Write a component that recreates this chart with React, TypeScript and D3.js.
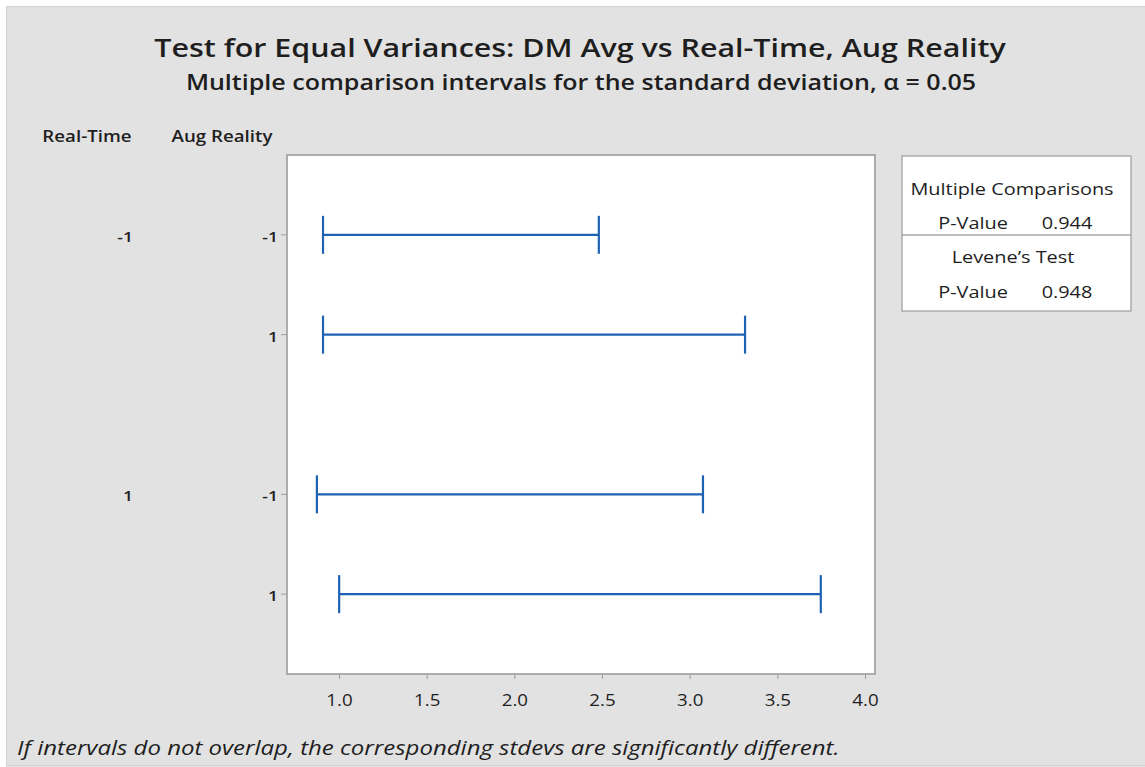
import React from "react";
import * as d3 from "d3";

const groupsRealTime = ["-1", "-1", "1", "1"];
const groupsAug = ["-1", "1", "-1", "1"];
const rowPositions = [0, 1, 2.6, 3.6];
const lowerCI = [0.906, 0.906, 0.871, 0.998];
const upperCI = [2.479, 3.313, 3.073, 3.745];
const xTicks = [1.0, 1.5, 2.0, 2.5, 3.0, 3.5, 4.0];
const multCompP = "0.944";
const leveneP = "0.948";

const W = 1145;
const H = 767;
const FONT = "'Open Sans', 'Noto Sans', sans-serif";
const SX = 1.17;

type STextProps = {
  x: number;
  y: number;
  anchor?: "start" | "middle" | "end";
  size: number;
  weight?: number;
  italic?: boolean;
  sx?: number;
  children: React.ReactNode;
};

function SText({ x, y, anchor = "start", size, weight = 400, italic = false, sx = SX, children }: STextProps) {
  return (
    <g transform={`translate(${x},${y}) scale(${sx},1)`}>
      <text
        x={0}
        y={0}
        textAnchor={anchor}
        fontSize={size}
        fontWeight={weight}
        fontStyle={italic ? "italic" : "normal"}
        fill="#1e1e1e"
      >
        {children}
      </text>
    </g>
  );
}

export default function App() {
  const plot = { left: 287, right: 875, top: 155, bottom: 674 };
  const xs = d3.scaleLinear().domain([1.0, 4.0]).range([339.5, 865.5]);
  const y = d3.scaleLinear().domain([-0.8, 4.4]).range([plot.top, plot.bottom]);
  const blue = "#1f62b3";
  const axisGray = "#9c9c9c";

  return (
    <svg width={W} height={H} style={{ position: "absolute", left: 0, top: 0 }} fontFamily={FONT}>
      <rect x={0} y={0} width={W} height={H} fill="#ffffff" />
      <rect x={6} y={6} width={W - 6} height={H - 6} fill="#e2e2e2" />
      <rect x={6.5} y={6.5} width={W - 6} height={H - 8} fill="none" stroke="#d2d2d2" strokeWidth={1} />

      <SText x={580} y={57} anchor="middle" size={26} weight={600}>
        Test for Equal Variances: DM Avg vs Real-Time, Aug Reality
      </SText>
      <SText x={581} y={89.5} anchor="middle" size={21.5} weight={600} sx={1.165}>
        Multiple comparison intervals for the standard deviation, α = 0.05
      </SText>

      <SText x={87} y={142} anchor="middle" size={16} weight={600}>Real-Time</SText>
      <SText x={222} y={142} anchor="middle" size={16} weight={600}>Aug Reality</SText>

      <rect
        x={plot.left}
        y={plot.top}
        width={plot.right - plot.left}
        height={plot.bottom - plot.top}
        fill="#ffffff"
        stroke={axisGray}
        strokeWidth={1.6}
      />

      {rowPositions.map((p, i) => {
        const yy = y(p);
        const showRT = i === 0 || groupsRealTime[i] !== groupsRealTime[i - 1];
        return (
          <g key={i}>
            {showRT && (
              <SText x={133} y={yy + 7} anchor="end" size={15} weight={600}>
                {groupsRealTime[i]}
              </SText>
            )}
            <SText x={278} y={yy + 7} anchor="end" size={15} weight={600}>
              {groupsAug[i]}
            </SText>
            <line x1={281} x2={plot.left} y1={yy} y2={yy} stroke={axisGray} strokeWidth={1} />
            <line x1={xs(lowerCI[i])} x2={xs(upperCI[i])} y1={yy} y2={yy} stroke={blue} strokeWidth={2.2} />
            <line x1={xs(lowerCI[i])} x2={xs(lowerCI[i])} y1={yy - 19} y2={yy + 19} stroke={blue} strokeWidth={2.2} />
            <line x1={xs(upperCI[i])} x2={xs(upperCI[i])} y1={yy - 19} y2={yy + 19} stroke={blue} strokeWidth={2.2} />
          </g>
        );
      })}

      {xTicks.map((t) => (
        <g key={t}>
          <line x1={xs(t)} x2={xs(t)} y1={plot.bottom} y2={plot.bottom + 5} stroke={axisGray} strokeWidth={1} />
          <SText x={xs(t)} y={706} anchor="middle" size={16}>
            {d3.format(".1f")(t)}
          </SText>
        </g>
      ))}

      <rect x={902} y={156} width={229} height={155} fill="#ffffff" stroke={axisGray} strokeWidth={1.2} />
      <line x1={902} x2={1131} y1={235} y2={235} stroke="#808080" strokeWidth={1.2} />
      <SText x={1012} y={195} anchor="middle" size={17}>Multiple Comparisons</SText>
      <SText x={973} y={229} anchor="middle" size={17}>P-Value</SText>
      <SText x={1067} y={229} anchor="middle" size={17}>{multCompP}</SText>
      <SText x={1013} y={263} anchor="middle" size={17}>Levene’s Test</SText>
      <SText x={973} y={298} anchor="middle" size={17}>P-Value</SText>
      <SText x={1067} y={298} anchor="middle" size={17}>{leveneP}</SText>

      <SText x={17} y={755} size={20.5} italic>
        If intervals do not overlap, the corresponding stdevs are significantly different.
      </SText>
    </svg>
  );
}
